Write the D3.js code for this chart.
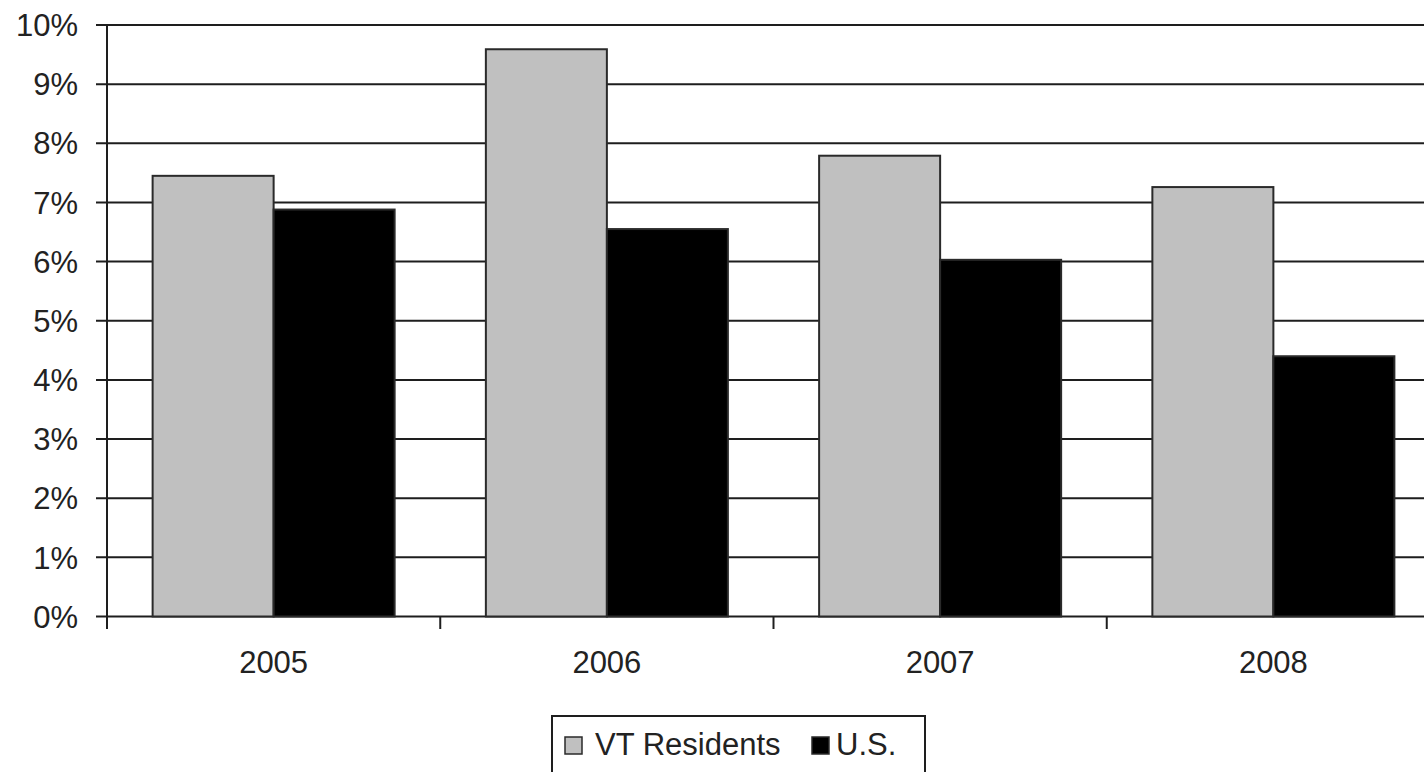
<!DOCTYPE html>
<html>
<head>
<meta charset="utf-8">
<script src="https://cdn.jsdelivr.net/npm/d3@7"></script>
<style>
  html, body { margin: 0; padding: 0; background: #fff; }
  svg { display: block; }
  text { font-family: "Liberation Sans", Arial, sans-serif; fill: #222; }
</style>
</head>
<body>
<svg id="chart" width="1424" height="772"></svg>
<script>
// Share of population, by year
const years = ["2005", "2006", "2007", "2008"];
const seriesNames = ["VT Residents", "U.S."];
const vtResidents = [7.45, 9.59, 7.79, 7.26];
const usValues = [6.88, 6.55, 6.03, 4.40];
const yTicks = [0, 1, 2, 3, 4, 5, 6, 7, 8, 9, 10];
const seriesColors = ["#c0c0c0", "#000000"];

const rows = years.map((yr, i) => ({ year: yr, values: [vtResidents[i], usValues[i]] }));

const svg = d3.select("#chart");
const plotLeft = 107, plotTop = 25, plotBottom = 616.5;
const plotRight = 1440;

const x = d3.scaleBand().domain(years).range([plotLeft, plotRight]).paddingInner(0).paddingOuter(0);
const xs = d3.scaleBand().domain(seriesNames).range([0, x.bandwidth()]).paddingInner(0).paddingOuter(0.377);
const y = d3.scaleLinear().domain([0, 10]).range([plotBottom, plotTop]);

// Horizontal gridlines
svg.append("g")
  .selectAll("line")
  .data(yTicks)
  .join("line")
  .attr("x1", plotLeft - 11)
  .attr("x2", 1424)
  .attr("y1", d => y(d))
  .attr("y2", d => y(d))
  .attr("stroke", "#1e1e1e")
  .attr("stroke-width", 2);

// Bars
const groups = svg.append("g")
  .selectAll("g")
  .data(rows)
  .join("g")
  .attr("transform", d => `translate(${x(d.year)},0)`);

groups.selectAll("rect")
  .data(d => d.values.map((v, i) => ({ key: seriesNames[i], v, i })))
  .join("rect")
  .attr("x", d => xs(d.key))
  .attr("width", xs.bandwidth())
  .attr("y", d => y(d.v))
  .attr("height", d => y(0) - y(d.v))
  .attr("fill", d => seriesColors[d.i])
  .attr("stroke", "#2a2a2a")
  .attr("stroke-width", 2);

// Y axis line and labels
svg.append("line")
  .attr("x1", plotLeft).attr("x2", plotLeft)
  .attr("y1", plotTop).attr("y2", plotBottom + 12.5)
  .attr("stroke", "#1e1e1e").attr("stroke-width", 2);

svg.append("g")
  .selectAll("text")
  .data(yTicks)
  .join("text")
  .attr("x", 78)
  .attr("y", d => y(d))
  .attr("dy", "0.36em")
  .attr("text-anchor", "end")
  .attr("font-size", 31)
  .text(d => d + "%");

// X axis category labels
const xAxis = d3.axisBottom(x).tickSize(0).tickPadding(0);
const xg = svg.append("g").attr("transform", `translate(0,${plotBottom})`).call(xAxis);
xg.select(".domain").remove();
xg.selectAll("text")
  .attr("font-size", 31)
  .attr("dy", null)
  .attr("y", 56)
  .style("font-family", "'Liberation Sans', Arial, sans-serif")
  .attr("fill", "#222");

// Category divider ticks
svg.append("g")
  .selectAll("line")
  .data(years.slice(1))
  .join("line")
  .attr("x1", d => x(d)).attr("x2", d => x(d))
  .attr("y1", plotBottom).attr("y2", plotBottom + 12.5)
  .attr("stroke", "#1e1e1e").attr("stroke-width", 2);

// Legend
const legend = svg.append("g");
legend.append("rect")
  .attr("x", 552).attr("y", 716)
  .attr("width", 373).attr("height", 80)
  .attr("fill", "#fff")
  .attr("stroke", "#1e1e1e").attr("stroke-width", 2);

const legendItems = [
  { name: seriesNames[0], color: seriesColors[0], sx: 565, tx: 595 },
  { name: seriesNames[1], color: seriesColors[1], sx: 812, tx: 836 }
];
legend.selectAll("rect.sw")
  .data(legendItems)
  .join("rect")
  .attr("class", "sw")
  .attr("x", d => d.sx).attr("y", 737)
  .attr("width", 17).attr("height", 17)
  .attr("fill", d => d.color)
  .attr("stroke", "#2a2a2a").attr("stroke-width", 1.5);
legend.selectAll("text")
  .data(legendItems)
  .join("text")
  .attr("x", d => d.tx).attr("y", 755)
  .attr("font-size", 31)
  .text(d => d.name);
</script>
</body>
</html>
